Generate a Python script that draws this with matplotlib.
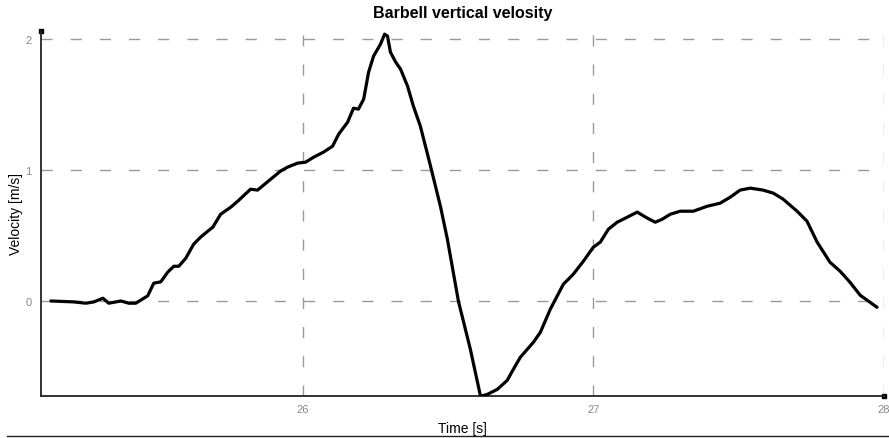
import matplotlib.pyplot as plt
from matplotlib.lines import Line2D

plt.rcParams['font.family'] = ['Liberation Sans', 'DejaVu Sans']

# Barbell velocity trace (time in s, velocity in m/s)
time_s = [25.134, 25.213, 25.254, 25.282, 25.313, 25.333, 25.375, 25.402, 25.426,
          25.467, 25.488, 25.512, 25.536, 25.557, 25.574, 25.598, 25.625, 25.649,
          25.674, 25.691, 25.718, 25.753, 25.777, 25.821, 25.845, 25.890, 25.924,
          25.948, 25.983, 26.010, 26.038, 26.072, 26.103, 26.124, 26.155, 26.175,
          26.192, 26.210, 26.227, 26.244, 26.268, 26.282, 26.292, 26.302, 26.320,
          26.337, 26.361, 26.381, 26.405, 26.440, 26.474, 26.498, 26.536, 26.577,
          26.612, 26.636, 26.670, 26.704, 26.725, 26.749, 26.794, 26.818, 26.852,
          26.897, 26.931, 26.966, 27.000, 27.024, 27.052, 27.082, 27.103, 27.151,
          27.186, 27.213, 27.237, 27.265, 27.299, 27.344, 27.392, 27.436, 27.471,
          27.505, 27.540, 27.584, 27.619, 27.653, 27.701, 27.735, 27.770, 27.814,
          27.849, 27.883, 27.918, 27.976]
velocity = [-0.002, -0.009, -0.019, -0.009, 0.019, -0.019, -0.002, -0.019, -0.019,
            0.037, 0.134, 0.144, 0.218, 0.263, 0.263, 0.324, 0.431, 0.485,
            0.531, 0.561, 0.660, 0.714, 0.760, 0.851, 0.844, 0.927, 0.989,
            1.019, 1.050, 1.057, 1.095, 1.134, 1.179, 1.271, 1.363, 1.469,
            1.462, 1.538, 1.744, 1.866, 1.958, 2.034, 2.019, 1.897, 1.821,
            1.767, 1.637, 1.485, 1.332, 1.027, 0.721, 0.469, -0.004, -0.370,
            -0.729, -0.714, -0.676, -0.607, -0.523, -0.431, -0.317, -0.240, -0.065,
            0.126, 0.202, 0.302, 0.408, 0.447, 0.546, 0.599, 0.622, 0.676,
            0.630, 0.599, 0.622, 0.660, 0.683, 0.683, 0.721, 0.744, 0.790,
            0.844, 0.859, 0.844, 0.821, 0.775, 0.683, 0.607, 0.447, 0.294,
            0.225, 0.141, 0.042, -0.050]

x_ticks = [26, 27, 28]
y_ticks = [0, 1, 2]

fig = plt.figure(figsize=(8.89, 4.39), dpi=100)
ax = fig.add_axes([41 / 889, 1 - 397 / 439, 843 / 889, 365 / 439])

ax.plot(time_s, velocity, color='black', linewidth=2.3, solid_joinstyle='round',
        solid_capstyle='round', zorder=3)

ax.set_xlim(25.1, 28.0)
ax.set_ylim(-0.727, 2.058)
ax.set_xticks(x_ticks)
ax.set_yticks(y_ticks)
ax.grid(True, color='#999999', linewidth=1.0, linestyle=(0, (8, 13)))
ax.tick_params(axis='both', length=0, labelsize=8, labelcolor='#888888')
ax.tick_params(axis='x', pad=6)
ax.tick_params(axis='y', pad=7)

for side in ['top', 'right']:
    ax.spines[side].set_visible(False)
for side in ['left', 'bottom']:
    ax.spines[side].set_color('#222222')
    ax.spines[side].set_linewidth(1.3)

# small square caps at the axis ends
ax.plot([0], [1], marker='s', markersize=3, color='black', transform=ax.transAxes,
        clip_on=False)
ax.plot([1], [0], marker='s', markersize=3, color='black', transform=ax.transAxes,
        clip_on=False)

ax.set_title('Barbell vertical velosity', fontsize=11.5, fontweight='bold', pad=10)
ax.set_xlabel('Time [s]', fontsize=10)
ax.set_ylabel('Velocity [m/s]', fontsize=10)
ax.xaxis.set_label_coords(0.5, -0.068)
ax.yaxis.set_label_coords(-0.021, 0.5)

fig.add_artist(Line2D([0.008, 1.0], [1 - 437 / 439, 1 - 437 / 439],
                      color='#222222', linewidth=1.0, transform=fig.transFigure))

fig.savefig('out.png', dpi=100)
